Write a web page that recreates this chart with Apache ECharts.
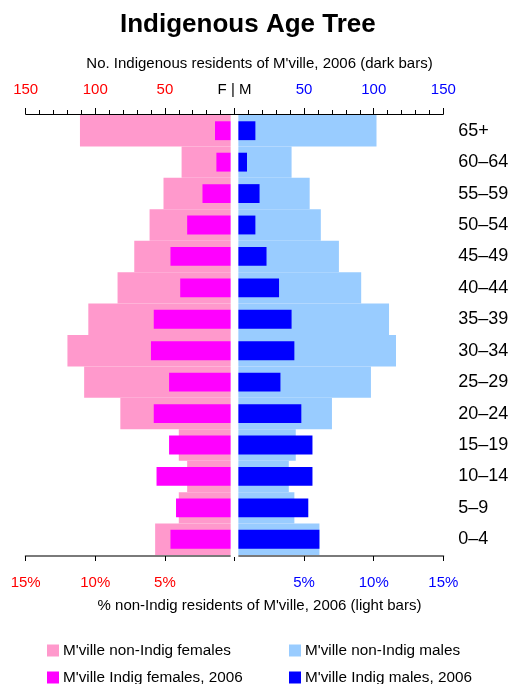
<!DOCTYPE html>
<html>
<head>
<meta charset="utf-8">
<script src="https://cdn.jsdelivr.net/npm/echarts@6/dist/echarts.min.js"></script>
<style>
html,body{margin:0;padding:0;background:#fff;}
#chart{width:509px;height:684px;}
</style>
</head>
<body>
<div id="chart"></div>
<script>
// ---- data (youngest first; axis draws bottom to top) ----
const ageGroups = ['0–4','5–9','10–14','15–19','20–24','25–29','30–34','35–39','40–44','45–49','50–54','55–59','60–64','65+'];
// % of non-Indigenous residents of M'ville, 2006 (light bars)
const nonIndigFemalesPct = [5.7, 4.0, 3.4, 4.0, 8.2, 10.8, 12.0, 10.5, 8.4, 7.2, 6.1, 5.1, 3.8, 11.1];
const nonIndigMalesPct   = [6.1, 4.3, 3.9, 4.4, 7.0, 9.8, 11.6, 11.1, 9.1, 7.5, 6.2, 5.4, 4.1, 10.2];
// Number of Indigenous residents of M'ville, 2006 (dark bars)
const indigFemales = [46, 42, 56, 47, 58, 47, 60, 58, 39, 46, 34, 23, 13, 14];
const indigMales   = [61, 53, 56, 56, 48, 33, 43, 41, 32, 23, 15, 18, 9, 15];
// tick labels
const countTicks = [-150, -100, -50, 0, 50, 100, 150];
const pctTicks = [-15, -10, -5, 0, 5, 10, 15];

const FONT = '"Liberation Sans", Arial, Helvetica, sans-serif';
const RED = '#FF0000', BLUE = '#0000FF';
const C_LF = '#FF99CC', C_LM = '#99CCFF', C_DF = '#FF00FF', C_DM = '#0000FF';

const chart = echarts.init(document.getElementById('chart'), null, {renderer: 'canvas'});

const sideColor = v => v < 0 ? RED : (v > 0 ? BLUE : '#000');

function legendAt(name, left, top) {
  return {
    data: [name], left: left, top: top, padding: 0, orient: 'horizontal',
    icon: 'rect', itemWidth: 12, itemHeight: 12, itemGap: 4, selectedMode: false,
    textStyle: {fontFamily: FONT, fontSize: 15.3, color: '#000', padding: [0, 0, 0, -1]}
  };
}

const option = {
  animation: false,
  backgroundColor: '#fff',
  title: {
    text: 'Indigenous Age Tree', left: 115, top: 7,
    textStyle: {fontFamily: FONT, fontSize: 26, fontWeight: 'bold', color: '#000'}
  },
  legend: [
    legendAt("M'ville non-Indig females", 47, 643),
    legendAt("M'ville non-Indig males", 289, 643),
    legendAt("M'ville Indig females, 2006", 47, 670),
    legendAt("M'ville Indig males, 2006", 289, 670)
  ],
  grid: {left: 25.67, right: 65.67, top: 115, bottom: 129, containLabel: false, outerBoundsMode: 'none'},
  xAxis: [
    {
      type: 'value', position: 'top', min: -150, max: 150, interval: 50, offset: 1,
      name: "No. Indigenous residents of M'ville, 2006 (dark bars)",
      nameLocation: 'middle', nameGap: 43,
      nameTextStyle: {fontFamily: FONT, fontSize: 15, color: '#000', padding: [0, 0, 0, 50]},
      axisLine: {show: true, onZero: false, lineStyle: {color: '#000', width: 1}},
      axisTick: {show: true, length: 6, lineStyle: {color: '#000', width: 1}},
      minorTick: {show: true, splitNumber: 5, length: 4, lineStyle: {color: '#000', width: 1}},
      splitLine: {show: false},
      axisLabel: {
        margin: 17, fontFamily: FONT, fontSize: 15,
        formatter: v => v === 0 ? 'F | M' : String(Math.abs(v)),
        color: v => sideColor(Number(v))
      }
    },
    {
      type: 'value', position: 'bottom', min: -15, max: 15, interval: 5, offset: 1,
      name: "% non-Indig residents of M'ville, 2006 (light bars)",
      nameLocation: 'middle', nameGap: 42,
      nameTextStyle: {fontFamily: FONT, fontSize: 15, color: '#000', padding: [0, 0, 0, 50]},
      axisLine: {show: true, onZero: false, lineStyle: {color: '#7a7a7a', width: 2}},
      axisTick: {show: true, length: 5, lineStyle: {color: '#000', width: 1}},
      splitLine: {show: false},
      axisLabel: {
        margin: 19, fontFamily: FONT, fontSize: 15,
        formatter: v => v === 0 ? '' : Math.abs(v) + '%',
        color: v => sideColor(Number(v))
      }
    }
  ],
  yAxis: [
    {
      type: 'category', data: ageGroups, position: 'right',
      axisLine: {show: false}, axisTick: {show: false}, splitLine: {show: false},
      axisLabel: {margin: 15, fontFamily: FONT, fontSize: 18, color: '#000'}
    },
    {
      type: 'category', data: ageGroups, show: false
    }
  ],
  series: [
    {
      name: "M'ville non-Indig females", type: 'bar', stack: 'light',
      xAxisIndex: 1, yAxisIndex: 0, barWidth: '100%', barCategoryGap: '0%',
      itemStyle: {color: C_LF}, data: nonIndigFemalesPct.map(v => -v), z: 2
    },
    {
      name: "M'ville non-Indig males", type: 'bar', stack: 'light',
      xAxisIndex: 1, yAxisIndex: 0, barWidth: '100%', barCategoryGap: '0%',
      itemStyle: {color: C_LM}, data: nonIndigMalesPct, z: 2
    },
    {
      name: "M'ville Indig females, 2006", type: 'bar', stack: 'dark',
      xAxisIndex: 0, yAxisIndex: 1, barWidth: '60%',
      itemStyle: {color: C_DF}, data: indigFemales.map(v => -v), z: 3
    },
    {
      name: "M'ville Indig males, 2006", type: 'bar', stack: 'dark',
      xAxisIndex: 0, yAxisIndex: 1, barWidth: '60%',
      itemStyle: {color: C_DM}, data: indigMales, z: 3
    }
  ]
};
chart.setOption(option);

// white centre strip separating the female and male halves
const HALF_GAP = 3.85;
const cx = chart.convertToPixel({xAxisIndex: 1}, 0);
const yTop = chart.convertToPixel({yAxisIndex: 0}, ageGroups[ageGroups.length - 1]);
const yBot = chart.convertToPixel({yAxisIndex: 0}, ageGroups[0]);
const band = (yBot - yTop) / (ageGroups.length - 1);
chart.setOption({
  graphic: [{
    type: 'rect', z: 100, silent: true,
    shape: {x: cx - HALF_GAP, y: yTop - band / 2, width: HALF_GAP * 2, height: (yBot - yTop) + band + 2},
    style: {fill: '#fff'}
  }]
});
</script>
</body>
</html>
